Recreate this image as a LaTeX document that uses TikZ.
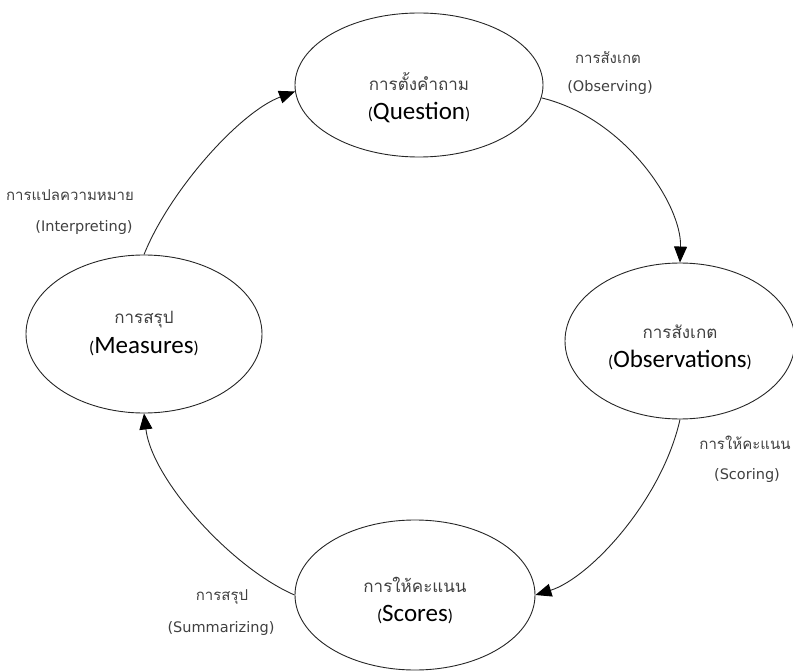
\documentclass[tikz,border=0pt]{standalone}
\usepackage{fontspec}
\usetikzlibrary{arrows.meta,shapes.geometric}
\newfontfamily\thaifont[Script=Thai]{Loma}
\newfontfamily\stagefont{Carlito}
\newfontfamily\labelfont{DejaVu Sans}
\newcommand{\smallparen}[1]{{\fontsize{17}{17}\selectfont #1}}
\begin{document}
\begin{tikzpicture}[x=1pt,y=-1pt,
  stage/.style={draw=black!85, line width=0.9pt, ellipse, inner sep=0pt},
  stagethai/.style={inner sep=0pt, text=black!75, font=\thaifont\fontsize{17}{17}\selectfont},
  stageeng/.style={inner sep=0pt, text=black, font=\stagefont\fontsize{25}{25}\selectfont},
  edgethai/.style={inner sep=0pt, text=black!75, font=\thaifont\fontsize{15}{15}\selectfont},
  edgeeng/.style={inner sep=0pt, text=black!75, font=\labelfont\fontsize{14.5}{14.5}\selectfont},
  flow/.style={draw=black!85, line width=0.9pt, -{Triangle[length=16pt,width=13pt,color=black]}}]
\useasboundingbox (0,0) rectangle (793,671);

% the four stages
\node[stage, minimum width=248, minimum height=144] (q)    at (419,85)  {};
\node[stage, minimum width=236, minimum height=158] (meas) at (144,334) {};
\node[stage, minimum width=230, minimum height=156] (obs)  at (680,341) {};
\node[stage, minimum width=240, minimum height=150] (sc)   at (415,595) {};

\node[stagethai] (qth)  at (419,82)  {การตั้งคำถาม};
\node[stageeng]  (qen)  at (419,113) {\smallparen{(}Question\smallparen{)}};
\node[stagethai] (mth)  at (144,320) {การสรุป};
\node[stageeng]  (men)  at (144,347) {\smallparen{(}Measures\smallparen{)}};
\node[stagethai] (oth)  at (680,332) {การสังเกต};
\node[stageeng]  (oen)  at (680,360) {\smallparen{(}Observations\smallparen{)}};
\node[stagethai] (sth)  at (415,585) {การให้คะแนน};
\node[stageeng]  (sen)  at (415,615) {\smallparen{(}Scores\smallparen{)}};

% transitions between stages
\draw[flow] (q.-6) .. controls (625,118) and (682,205) .. (obs.north);
\draw[flow] (obs.south) .. controls (662,500) and (590,578) .. (sc.east);
\draw[flow] (sc.west) .. controls (232,568) and (152,480) .. (meas.south);
\draw[flow] (meas.north) .. controls (170,190) and (240,112) .. (q.183);

% transition labels
\node[edgethai] (l1t) at (608,58)  {การสังเกต};
\node[edgeeng]  (l1e) at (610,88)  {(Observing)};
\node[edgethai] (l2t) at (745,443) {การให้คะแนน};
\node[edgeeng]  (l2e) at (747,475) {(Scoring)};
\node[edgethai] (l3t) at (222,597) {การสรุป};
\node[edgeeng]  (l3e) at (221,628) {(Summarizing)};
\node[edgethai] (l4t) at (70,195)  {การแปลความหมาย};
\node[edgeeng]  (l4e) at (84,228)  {(Interpreting)};
\end{tikzpicture}
\end{document}
